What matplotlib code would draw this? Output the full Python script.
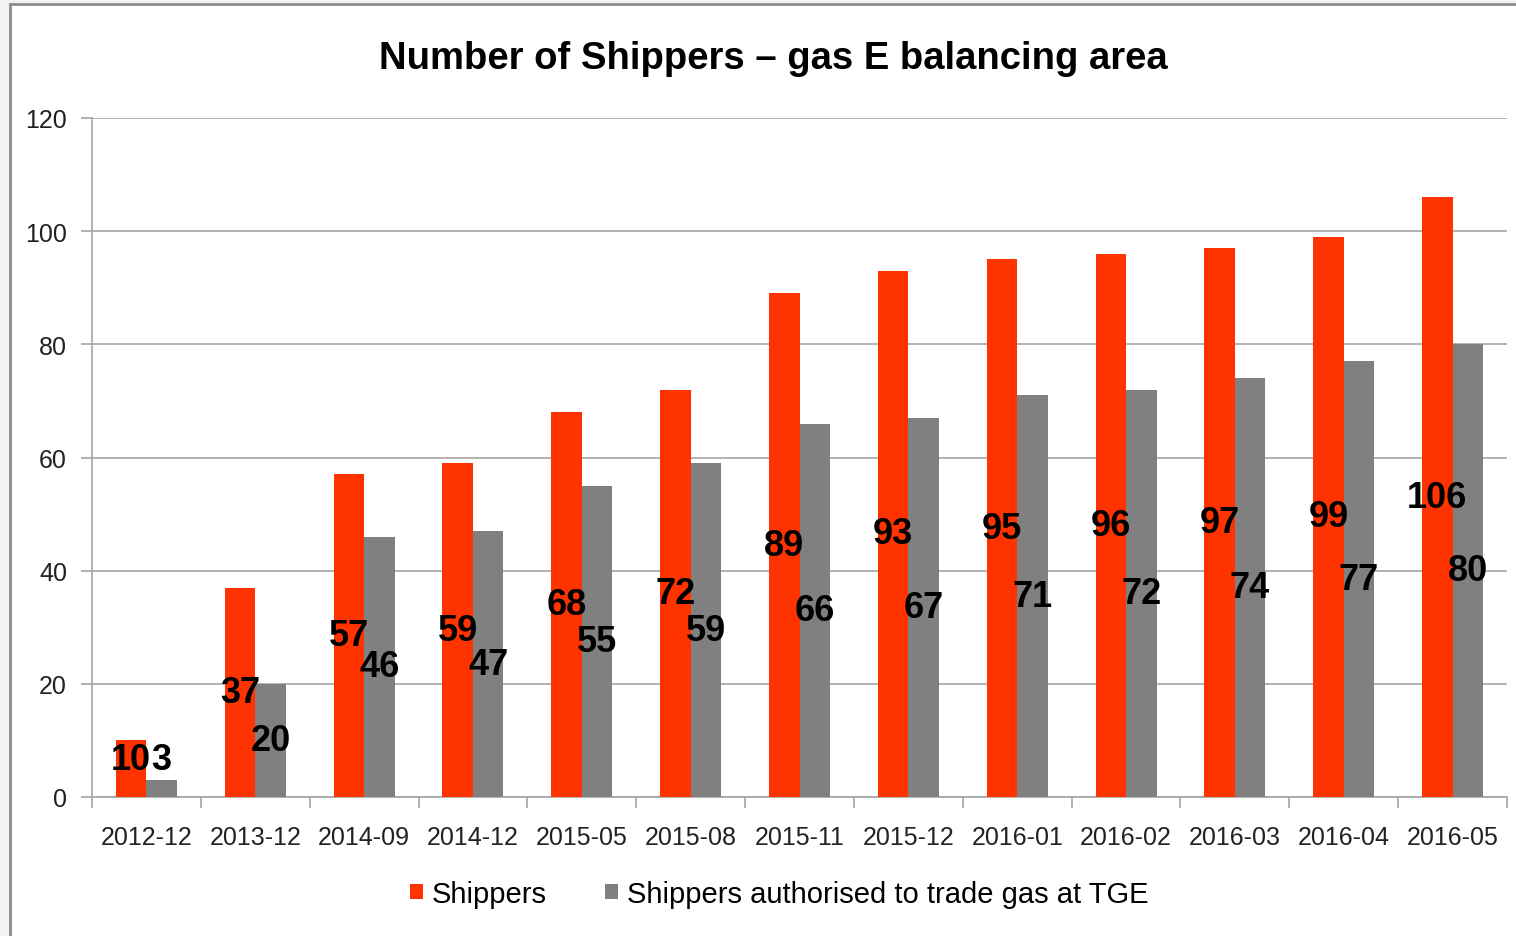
import numpy as np
import matplotlib.pyplot as plt
from matplotlib.patches import Rectangle, Patch

# Data
months = ['2012-12', '2013-12', '2014-09', '2014-12', '2015-05', '2015-08', '2015-11',
          '2015-12', '2016-01', '2016-02', '2016-03', '2016-04', '2016-05']
shippers = [10, 37, 57, 59, 68, 72, 89, 93, 95, 96, 97, 99, 106]
shippers_tge = [3, 20, 46, 47, 55, 59, 66, 67, 71, 72, 74, 77, 80]

RED = '#FF3300'
GREY = '#808080'

plt.rcParams['font.family'] = ['Liberation Sans', 'DejaVu Sans']

fig = plt.figure(figsize=(15.16, 9.37), dpi=100)
fig.patch.set_facecolor('#F2F2F2')

# outer chart frame (white area with grey border, cut off at right/bottom)
fig.patches.append(Rectangle((10 / 1516, -0.05), 1.1, 1 - 5 / 937 + 0.05,
                             transform=fig.transFigure, facecolor='white',
                             edgecolor='#8C8C8C', linewidth=2, zorder=-5))

ax = fig.add_axes([92 / 1516, 1 - 798 / 937, (1507 - 92) / 1516, (798 - 119) / 937])
ax.set_facecolor('white')

x = np.arange(len(months))
w = 0.28
ax.bar(x - w / 2, shippers, w, color=RED, zorder=3, label='Shippers')
ax.bar(x + w / 2, shippers_tge, w, color=GREY, zorder=3,
       label='Shippers authorised to trade gas at TGE')

# data labels, centred in bars
for xi, v in zip(x - w / 2, shippers):
    ax.text(xi, max(v / 2, 6.7), str(v), ha='center', va='center',
            fontsize=26, fontweight='bold', color='black', zorder=4)
for xi, v in zip(x + w / 2, shippers_tge):
    ax.text(xi, max(v / 2, 6.7), str(v), ha='center', va='center',
            fontsize=26, fontweight='bold', color='black', zorder=4)

ax.set_ylim(0, 120)
ax.set_xlim(-0.5, len(months) - 0.5)
ax.set_yticks(range(0, 121, 20))
ax.yaxis.grid(True, color='#A6A6A6', linewidth=1.2, zorder=0)
ax.set_axisbelow(True)

ax.set_xticks(x)
ax.set_xticklabels(months)
ax.set_xticks(np.arange(-0.5, len(months), 1), minor=True)
ax.tick_params(axis='x', which='major', length=0, pad=20, labelsize=18, colors='#222222')
ax.tick_params(axis='x', which='minor', length=8, width=1.2, color='#A6A6A6')
ax.tick_params(axis='y', length=8, width=1.2, color='#A6A6A6', pad=10,
               labelsize=18, labelcolor='#222222')

for s in ['top', 'right']:
    ax.spines[s].set_visible(False)
for s in ['left', 'bottom']:
    ax.spines[s].set_color('#A6A6A6')
    ax.spines[s].set_linewidth(1.2)

fig.text(773 / 1516, 1 - 59 / 937, 'Number of Shippers \u2013 gas E balancing area',
         ha='center', va='center', fontsize=27.5, fontweight='bold')

handles = [Patch(facecolor=RED), Patch(facecolor=GREY)]
fig.legend(handles, ['Shippers', 'Shippers authorised to trade gas at TGE'],
           loc='center', bbox_to_anchor=(779 / 1516, 1 - 895 / 937), ncol=2,
           frameon=False, fontsize=21, handlelength=0.45, handleheight=0.45,
           handletextpad=0.3, columnspacing=2.0)

fig.savefig('out.png', dpi=100, facecolor=fig.get_facecolor())
